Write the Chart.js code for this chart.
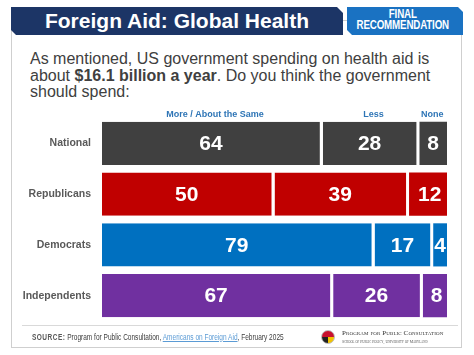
<!DOCTYPE html>
<html>
<head>
<meta charset="utf-8">
<script src="https://cdn.jsdelivr.net/npm/chart.js@4/dist/chart.umd.min.js"></script>
<style>
  html, body { margin:0; padding:0; background:#fff; }
  body { width:474px; height:355px; position:relative; overflow:hidden; font-family: Arial, "Liberation Sans", sans-serif; }
  #card { position:absolute; left:11px; top:20px; width:451px; height:328px; border:1px solid #cfcfcf; box-sizing:border-box; }
  #navy { position:absolute; left:11px; top:7px; width:332px; height:28px; background:#1c3566;
          clip-path: polygon(0 0, 326px 0, 332px 6px, 332px 28px, 5px 28px, 0 23px);
          color:#fff; font-weight:bold; font-size:21px; text-align:center; line-height:28px; }
  #final { position:absolute; left:347px; top:7px; width:116px; height:28px; background:#1a72c2;
           clip-path: polygon(0 0, 111px 0, 116px 5px, 116px 28px, 5px 28px, 0 23px); }
  #finalTxt { position:absolute; left:0; top:2px; width:143px; color:#fff; font-weight:bold; font-size:12.5px; line-height:11px;
              text-align:center; transform: scaleX(0.78); transform-origin: 0 0; letter-spacing:-0.2px; }
  #sub { position:absolute; left:30px; top:51px; font-size:16px; line-height:16.5px; color:#404040; }
  #divider { position:absolute; left:22px; top:325px; width:436px; height:1px; background:#d9d9d9; }
  #source { position:absolute; left:32px; top:332px; font-size:8.4px; color:#404040; white-space:nowrap; transform: scaleX(0.78); transform-origin: 0 0; }
  #source b { color:#595959; letter-spacing:0.6px; }
  #source a { color:#5b9bd5; text-decoration:underline; }
  #seal { position:absolute; left:321px; top:330px; width:14px; height:14px; border-radius:50%;
          background: conic-gradient(#c8102e 0 25%, #f2c300 0 50%, #222 0 75%, #c8102e 0 100%); border:1px solid #bbb; box-sizing:border-box; }
  #ppc { position:absolute; left:342px; top:329px; font-family:"Liberation Serif", "DejaVu Serif", serif; font-variant:small-caps; font-size:7px; color:#333; white-space:nowrap; letter-spacing:0.1px; }
  #ppc2 { position:absolute; left:342px; top:340px; font-family:"Liberation Serif", serif; font-variant:small-caps; font-size:3.8px; color:#555; white-space:nowrap; }
  canvas#c { position:absolute; left:0; top:0; }
</style>
</head>
<body>
<div id="card"></div>
<div id="navy">Foreign Aid: Global Health</div>
<div id="final"><div id="finalTxt">FINAL<br>RECOMMENDATION</div></div>
<div id="sub">As mentioned, US government spending on health aid is<br>about <b>$16.1 billion a year</b>. Do you think the government<br>should spend:</div>
<canvas id="c" width="474" height="355"></canvas>
<div id="divider"></div>
<div id="source"><b>SOURCE:</b> Program for Public Consultation, <a>Americans on Foreign Aid</a>, February 2025</div>
<div id="seal"></div>
<div id="ppc">Program for Public Consultation</div>
<div id="ppc2">School of Public Policy, University of Maryland</div>
<script>
const categories = ['National', 'Republicans', 'Democrats', 'Independents'];
const seriesLabels = ['More / About the Same', 'Less', 'None'];
const moreSame = [64, 50, 79, 67];
const less = [28, 39, 17, 26];
const none = [8, 12, 4, 8];
const groupColors = ['#404040', '#c00000', '#0070c0', '#7030a0'];

const valueLabels = {
  id: 'valueLabels',
  afterDatasetsDraw(chart) {
    const ctx = chart.ctx;
    const area = chart.chartArea;
    ctx.save();
    ctx.beginPath();
    ctx.rect(area.left, area.top, area.right - area.left, area.bottom - area.top);
    ctx.clip();
    ctx.fillStyle = '#ffffff';
    ctx.font = 'bold 21px Arial, "Liberation Sans", sans-serif';
    ctx.textAlign = 'center';
    ctx.textBaseline = 'middle';
    chart.data.datasets.forEach((ds, di) => {
      const meta = chart.getDatasetMeta(di);
      const gap = di < 2 ? 3 : 0;
      meta.data.forEach((el, i) => {
        const cx = (el.base + el.x - gap) / 2;
        ctx.fillText(String(ds.data[i]), cx, el.y + 1);
      });
    });
    ctx.restore();

    // series header labels above the first row
    ctx.save();
    ctx.fillStyle = '#2e75b6';
    ctx.font = 'bold 9px Arial, "Liberation Sans", sans-serif';
    ctx.textAlign = 'center';
    ctx.textBaseline = 'middle';
    const shift = [4, 4, -1];
    chart.data.datasets.forEach((ds, di) => {
      const el = chart.getDatasetMeta(di).data[0];
      const gap = di < 2 ? 3 : 0;
      const cx = (el.base + el.x - gap) / 2;
      ctx.fillText(ds.label, cx + shift[di], el.y - el.height / 2 - 7);
    });
    ctx.restore();
  }
};

const datasets = [moreSame, less, none].map((vals, di) => ({
  label: seriesLabels[di],
  data: vals,
  backgroundColor: groupColors,
  borderColor: '#ffffff',
  borderWidth: di < 2 ? { top: 0, right: 3, bottom: 0, left: 0 } : 0,
  borderSkipped: false,
  categoryPercentage: 1,
  barPercentage: 0.85
}));

new Chart(document.getElementById('c'), {
  type: 'bar',
  data: { labels: categories, datasets },
  options: {
    indexAxis: 'y',
    responsive: false,
    animation: false,
    events: [],
    layout: { padding: { left: 0, right: 27, top: 118, bottom: 34 } },
    plugins: { legend: { display: false }, tooltip: { enabled: false } },
    scales: {
      x: { stacked: true, min: 0, max: 100, display: false },
      y: {
        stacked: true,
        grid: { display: false, drawTicks: false },
        border: { display: false },
        ticks: { color: '#595959', font: { family: 'Arial, "Liberation Sans", sans-serif', size: 10.5, weight: 'bold' }, padding: 11 },
        afterFit(scale) { scale.width = 102; }
      }
    }
  },
  plugins: [valueLabels]
});
</script>
</body>
</html>
